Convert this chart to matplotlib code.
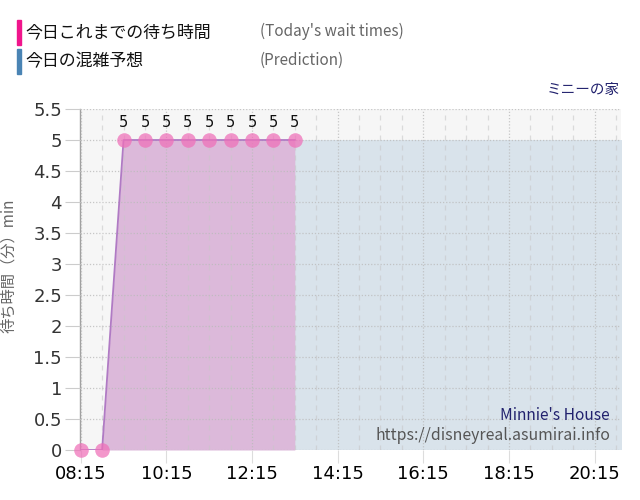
import matplotlib
matplotlib.use("Agg")
import matplotlib.pyplot as plt
from matplotlib.ticker import FixedLocator, FuncFormatter
from matplotlib.patches import Rectangle

# ---- data ----
actual_times = ["08:15", "08:45", "09:15", "09:45", "10:15", "10:45",
                "11:15", "11:45", "12:15", "12:45", "13:15"]
actual_waits = [0, 0, 5, 5, 5, 5, 5, 5, 5, 5, 5]
pred_times = ["13:15", "14:15", "15:15", "16:15", "17:15", "18:15",
              "19:15", "20:15", "21:00"]
pred_waits = [5, 5, 5, 5, 5, 5, 5, 5, 5]
tick_labels = ["08:15", "10:15", "12:15", "14:15", "16:15", "18:15", "20:15"]
y_ticks = [0, 0.5, 1, 1.5, 2, 2.5, 3, 3.5, 4, 4.5, 5, 5.5]

legend_jp = ["今日これまでの待ち時間", "今日の混雑予想"]
legend_en = ["(Today's wait times)", "(Prediction)"]
title_jp = "ミニーの家"
title_en = "Minnie's House"
source = "https://disneyreal.asumirai.info"
ylabel = "待ち時間（分）min"


def to_min(s):
    h, m = s.split(":")
    return int(h) * 60 + int(m)


ax_t = [to_min(t) for t in actual_times]
pr_t = [to_min(t) for t in pred_times]
tick_pos = [to_min(t) for t in tick_labels]

CJK = ["Noto Sans CJK JP", "DejaVu Sans"]

fig = plt.figure(figsize=(6.4, 5.0), dpi=100)
ax = fig.add_axes([80 / 640, 50 / 500, 541 / 640, 341 / 500])
ax.set_facecolor("#f6f6f6")

# prediction fill
ax.fill_between(pr_t, 0, pred_waits, color="#d9e3eb", linewidth=0, zorder=1)
# actual fill
ax.fill_between(ax_t, 0, actual_waits, color="#dcb9da", linewidth=0, zorder=1.2)
ax.plot(ax_t, actual_waits, color="#b07ac4", linewidth=1.3, zorder=3)
ax.plot(ax_t, actual_waits, linestyle="none", marker="o", markersize=10.5,
        markerfacecolor="#ef6fb8", markeredgewidth=0, alpha=0.72,
        zorder=4, clip_on=False)
for t, v in zip(ax_t, actual_waits):
    if v > 0:
        ax.annotate(f"{v:g}", (t, v), xytext=(0, 7), textcoords="offset points",
                    ha="center", va="bottom", fontsize=10.5, color="#111111",
                    family="DejaVu Sans")

ax.set_xlim(to_min("08:14"), to_min("20:52"))
ax.set_ylim(0, 5.5)
ax.set_axisbelow(False)

ax.xaxis.set_major_locator(FixedLocator(tick_pos))
ax.xaxis.set_major_formatter(FuncFormatter(lambda v, p: f"{int(v)//60:02d}:{int(v)%60:02d}"))
minor = list(range(to_min("08:45"), to_min("20:52"), 30))
ax.xaxis.set_minor_locator(FixedLocator(minor))
ax.yaxis.set_major_locator(FixedLocator(y_ticks))
ax.yaxis.set_major_formatter(FuncFormatter(lambda v, p: f"{v:g}"))

ax.grid(axis="y", which="major", color="#bbbbbb", linestyle=(0, (1, 1.5)), linewidth=0.9, alpha=0.8)
ax.grid(axis="x", which="major", color="#bbbbbb", linestyle=(0, (1, 1.5)), linewidth=0.9, alpha=0.8)
ax.grid(axis="x", which="minor", color="#c8c8c8", linestyle=(0, (4, 4)), linewidth=0.9, alpha=0.6)

ax.tick_params(axis="x", which="major", length=9, color="#dddddd", labelsize=13,
               labelcolor="#000000", pad=2)
ax.tick_params(axis="x", which="minor", length=0)
ax.tick_params(axis="y", which="major", length=11, color="#cccccc", labelsize=13,
               labelcolor="#333333", pad=2)

for s in ["top", "right", "bottom"]:
    ax.spines[s].set_visible(False)
ax.spines["left"].set_color("#a0a0a0")
ax.spines["left"].set_linewidth(1.0)

ax.set_ylabel(ylabel, family=CJK, fontsize=11, color="#666666", labelpad=4)
ax.yaxis.set_label_coords(-0.117, 0.54)

# legend-like header
fig.patches.append(Rectangle((17 / 640, 1 - 45 / 500), 4 / 640, 25 / 500,
                             transform=fig.transFigure, color="#f0158c"))
fig.patches.append(Rectangle((17 / 640, 1 - 74 / 500), 4 / 640, 25 / 500,
                             transform=fig.transFigure, color="#4a84b4"))
fig.text(25 / 640, 1 - 32 / 500, legend_jp[0], family=CJK, fontsize=12.2,
         color="#111111", va="center", ha="left")
fig.text(25 / 640, 1 - 61 / 500, legend_jp[1], family=CJK, fontsize=12.2,
         color="#111111", va="center", ha="left")
fig.text(260 / 640, 1 - 31 / 500, legend_en[0], family=CJK, fontsize=11,
         color="#666666", va="center", ha="left")
fig.text(260 / 640, 1 - 60 / 500, legend_en[1], family=CJK, fontsize=11,
         color="#666666", va="center", ha="left")

fig.text(620 / 640, 1 - 90 / 500, title_jp, family=CJK, fontsize=10.5,
         color="#22226e", va="center", ha="right")
fig.text(610 / 640, 1 - 415 / 500, title_en, family=CJK, fontsize=11.2,
         color="#22226e", va="center", ha="right")
fig.text(610 / 640, 1 - 436 / 500, source, family=CJK, fontsize=11.4,
         color="#555555", va="center", ha="right")

fig.savefig("out.png", dpi=100)
